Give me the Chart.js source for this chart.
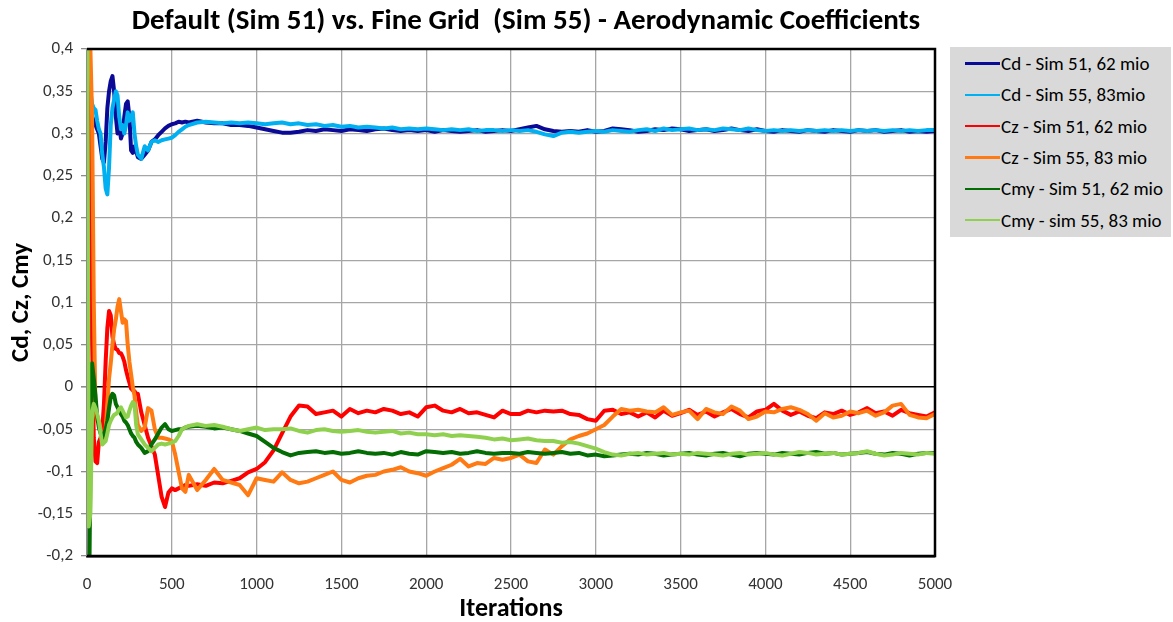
<!DOCTYPE html>
<html>
<head>
<meta charset="utf-8">
<script src="https://cdn.jsdelivr.net/npm/chart.js@4.4.1/dist/chart.umd.min.js"></script>
<style>
  html, body { margin: 0; padding: 0; background: #fff; }
  #wrap { position: relative; width: 1173px; height: 622px; }
  #legend {
    position: absolute; left: 950px; top: 47px; width: 221px; height: 190px;
    background: #d9d9d9; box-sizing: border-box; padding-top: 1px;
    font-family: Carlito, Calibri, Lato, sans-serif; font-size: 19px; color: #000;
  }
  .row { height: 31.3px; display: flex; align-items: center; }
  .swatch { margin-left: 15px; width: 35px; height: 2.5px; flex: none; }
  .lbl { margin-left: 1px; white-space: nowrap; }
</style>
</head>
<body>
<div id="wrap">
  <canvas id="chart" width="1173" height="622"></canvas>
  <div id="legend"></div>
</div>
<script>
const seriesNames = ['Cd - Sim 51, 62 mio', 'Cd - Sim 55, 83mio', 'Cz - Sim 51, 62 mio',
  'Cz - Sim 55, 83 mio', 'Cmy - Sim 51, 62 mio', 'Cmy - sim 55, 83 mio'];
const seriesColors = ['#0a0a96', '#00b0f0', '#ff0000', '#ff7a12', '#036c03', '#8fd14f'];

const iterations = [0, 10, 20, 30, 40, 50, 60, 70, 80, 90, 100, 110, 120, 130, 140, 150, 160, 170, 180, 190,
  200, 210, 220, 230, 240, 250, 260, 270, 280, 290, 300,
  320, 340, 360, 380, 400, 420, 440, 460, 480, 500, 520, 540, 560, 580, 600,
  650, 700, 750, 800, 850, 900, 950, 1000,
  1050, 1100, 1150, 1200, 1250, 1300, 1350, 1400, 1450, 1500,
  1550, 1600, 1650, 1700, 1750, 1800, 1850, 1900, 1950, 2000,
  2050, 2100, 2150, 2200, 2250, 2300, 2350, 2400, 2450, 2500,
  2550, 2600, 2650, 2700, 2750, 2800, 2850, 2900, 2950, 3000,
  3050, 3100, 3150, 3200, 3250, 3300, 3350, 3400, 3450, 3500,
  3550, 3600, 3650, 3700, 3750, 3800, 3850, 3900, 3950, 4000,
  4050, 4100, 4150, 4200, 4250, 4300, 4350, 4400, 4450, 4500,
  4550, 4600, 4650, 4700, 4750, 4800, 4850, 4900, 4950, 5000];

const cdSim51 = [0.40, 0.36, 0.33, 0.32, 0.315, 0.31, 0.305, 0.30, 0.285, 0.27, 0.266, 0.29, 0.33, 0.35, 0.362, 0.368, 0.35, 0.32, 0.30, 0.31,
  0.294, 0.30, 0.32, 0.335, 0.338, 0.32, 0.28, 0.277, 0.285, 0.279, 0.272,
  0.27, 0.275, 0.28, 0.29, 0.293, 0.298, 0.302, 0.306, 0.309, 0.311, 0.312, 0.314, 0.313, 0.314, 0.313,
  0.315, 0.313, 0.312, 0.312, 0.31, 0.31, 0.309, 0.307,
  0.305, 0.303, 0.301, 0.301, 0.302, 0.304, 0.303, 0.305, 0.304, 0.303,
  0.305, 0.304, 0.303, 0.305, 0.306, 0.304, 0.303, 0.304, 0.303, 0.304,
  0.302, 0.304, 0.303, 0.302, 0.303, 0.304, 0.302, 0.303, 0.304, 0.303,
  0.305, 0.307, 0.309, 0.305, 0.303, 0.302, 0.303, 0.302, 0.304, 0.302,
  0.303, 0.306, 0.305, 0.304, 0.302, 0.303, 0.305, 0.304, 0.306, 0.305,
  0.303, 0.304, 0.305, 0.303, 0.304, 0.306, 0.304, 0.303, 0.305, 0.303,
  0.302, 0.304, 0.303, 0.302, 0.304, 0.303, 0.302, 0.304, 0.303, 0.302,
  0.304, 0.303, 0.304, 0.302, 0.303, 0.304, 0.302, 0.303, 0.302, 0.303];

const cdSim55 = [0.40, 0.37, 0.35, 0.335, 0.33, 0.328, 0.315, 0.305, 0.30, 0.275, 0.26, 0.235, 0.228, 0.26, 0.31, 0.33, 0.34, 0.35, 0.345, 0.32,
  0.305, 0.31, 0.30, 0.31, 0.325, 0.315, 0.32, 0.325, 0.30, 0.285, 0.275,
  0.27, 0.285, 0.28, 0.29, 0.292, 0.29, 0.292, 0.293, 0.294, 0.295, 0.298, 0.302, 0.305, 0.308, 0.31,
  0.313, 0.314, 0.313, 0.312, 0.313, 0.312, 0.313, 0.312,
  0.311, 0.312, 0.313, 0.311, 0.312, 0.31, 0.311, 0.309, 0.31, 0.308,
  0.309, 0.307, 0.308, 0.307, 0.306, 0.307, 0.305, 0.306, 0.305, 0.306,
  0.305, 0.304, 0.305, 0.304, 0.305, 0.303, 0.304, 0.304, 0.303, 0.304,
  0.303, 0.304, 0.302, 0.299, 0.297, 0.301, 0.302, 0.301, 0.302, 0.303,
  0.302, 0.304, 0.303, 0.302, 0.304, 0.305, 0.303, 0.306, 0.304, 0.305,
  0.306, 0.304, 0.305, 0.304, 0.306, 0.305, 0.304, 0.306, 0.304, 0.303,
  0.304, 0.303, 0.304, 0.303, 0.304, 0.303, 0.304, 0.303, 0.304, 0.303,
  0.304, 0.303, 0.304, 0.303, 0.304, 0.303, 0.304, 0.303, 0.304, 0.304];

const czSim51 = [0.60, 0.45, 0.25, 0.05, -0.06, -0.088, -0.09, -0.065, -0.06, -0.05, -0.02, 0.03, 0.07, 0.09, 0.085, 0.06, 0.05, 0.045, 0.044, 0.04,
  0.04, 0.036, 0.03, 0.02, 0.012, 0.005, -0.002, -0.004, -0.005, -0.008, -0.008,
  -0.03, -0.045, -0.06, -0.07, -0.08, -0.105, -0.13, -0.142, -0.125, -0.12, -0.122, -0.12, -0.118, -0.116, -0.117,
  -0.115, -0.117, -0.113, -0.114, -0.111, -0.108, -0.101, -0.097,
  -0.089, -0.075, -0.055, -0.035, -0.022, -0.023, -0.032, -0.03, -0.028, -0.035,
  -0.026, -0.031, -0.028, -0.03, -0.026, -0.028, -0.032, -0.03, -0.035, -0.024,
  -0.022, -0.028, -0.03, -0.026, -0.031, -0.03, -0.033, -0.036, -0.028, -0.032,
  -0.032, -0.028, -0.03, -0.028, -0.029, -0.028, -0.032, -0.033, -0.038, -0.04,
  -0.028, -0.027, -0.032, -0.03, -0.035, -0.03, -0.036, -0.028, -0.034, -0.031,
  -0.027, -0.033, -0.029, -0.035, -0.03, -0.026, -0.032, -0.036, -0.029, -0.027,
  -0.02, -0.028, -0.033, -0.029, -0.034, -0.037, -0.03, -0.032, -0.028, -0.033,
  -0.03, -0.025, -0.031, -0.029, -0.034, -0.027, -0.031, -0.033, -0.035, -0.03];

const czSim55 = [0.60, 0.50, 0.40, 0.32, 0.10, -0.03, -0.04, -0.04, -0.05, -0.06, -0.064, -0.05, -0.02, 0.01, 0.028, 0.05, 0.068, 0.08, 0.095, 0.104,
  0.09, 0.076, 0.08, 0.078, 0.05, 0.03, 0.015, 0.0, -0.01, -0.03, -0.045,
  -0.052, -0.048, -0.025, -0.028, -0.05, -0.06, -0.06, -0.061, -0.062, -0.064, -0.08, -0.1, -0.12, -0.124, -0.104,
  -0.122, -0.11, -0.097, -0.11, -0.113, -0.116, -0.128, -0.108,
  -0.11, -0.112, -0.101, -0.11, -0.114, -0.112, -0.108, -0.104, -0.1, -0.11,
  -0.113, -0.108, -0.105, -0.104, -0.1, -0.098, -0.095, -0.1, -0.102, -0.105,
  -0.1, -0.096, -0.092, -0.085, -0.094, -0.09, -0.091, -0.084, -0.086, -0.084,
  -0.08, -0.088, -0.09, -0.074, -0.08, -0.07, -0.062, -0.058, -0.055, -0.05,
  -0.045, -0.035, -0.026, -0.028, -0.027, -0.029, -0.03, -0.024, -0.033, -0.03,
  -0.028, -0.038, -0.026, -0.03, -0.032, -0.023, -0.028, -0.038, -0.035, -0.029,
  -0.03, -0.026, -0.024, -0.027, -0.032, -0.04, -0.031, -0.036, -0.034, -0.029,
  -0.031, -0.028, -0.034, -0.03, -0.022, -0.02, -0.033, -0.036, -0.037, -0.032];

const cmySim51 = [-0.5, -0.3, -0.1, 0.028, 0.01, -0.01, -0.035, -0.048, -0.055, -0.06, -0.055, -0.05, -0.04, -0.025, -0.012, -0.008, -0.01, -0.02, -0.024, -0.028,
  -0.032, -0.035, -0.04, -0.042, -0.045, -0.05, -0.055, -0.058, -0.06, -0.065, -0.068,
  -0.072, -0.078, -0.076, -0.068, -0.062, -0.055, -0.048, -0.044, -0.05, -0.052, -0.051, -0.05, -0.05, -0.048, -0.047,
  -0.046, -0.047, -0.049, -0.048, -0.05, -0.052, -0.055, -0.058,
  -0.065, -0.072, -0.077, -0.081, -0.078, -0.077, -0.076, -0.078, -0.077, -0.079,
  -0.078, -0.076, -0.078, -0.079, -0.078, -0.08, -0.077, -0.079, -0.08, -0.076,
  -0.077, -0.078, -0.077, -0.079, -0.078, -0.076, -0.078, -0.079, -0.078, -0.078,
  -0.079, -0.077, -0.078, -0.079, -0.078, -0.077, -0.079, -0.078, -0.081, -0.08,
  -0.082, -0.081, -0.08, -0.079, -0.08, -0.078, -0.079, -0.081, -0.08, -0.079,
  -0.078, -0.08, -0.081, -0.079, -0.078, -0.08, -0.082, -0.079, -0.078, -0.079,
  -0.08, -0.078, -0.079, -0.08, -0.078, -0.077, -0.079, -0.078, -0.08, -0.079,
  -0.078, -0.077, -0.079, -0.08, -0.078, -0.079, -0.081, -0.079, -0.078, -0.078];

const cmySim55 = [0.6, -0.165, -0.15, -0.03, -0.02, -0.025, -0.032, -0.04, -0.055, -0.068, -0.066, -0.064, -0.055, -0.045, -0.04, -0.036, -0.033, -0.032, -0.03, -0.026,
  -0.024, -0.028, -0.032, -0.036, -0.035, -0.028, -0.022, -0.018, -0.02, -0.045, -0.056,
  -0.062, -0.068, -0.072, -0.076, -0.072, -0.068, -0.067, -0.068, -0.067, -0.066, -0.064, -0.058, -0.05, -0.048, -0.046,
  -0.044, -0.046, -0.045, -0.047, -0.05, -0.052, -0.05, -0.048,
  -0.051, -0.05, -0.05, -0.049, -0.052, -0.054, -0.051, -0.05, -0.052, -0.053,
  -0.052, -0.051, -0.053, -0.054, -0.053, -0.052, -0.055, -0.054, -0.056, -0.056,
  -0.057, -0.056, -0.058, -0.057, -0.058, -0.059, -0.06, -0.062, -0.061, -0.063,
  -0.062, -0.061, -0.063, -0.064, -0.064, -0.066, -0.065, -0.067, -0.07, -0.073,
  -0.077, -0.08, -0.081, -0.079, -0.078, -0.08, -0.079, -0.078, -0.08, -0.079,
  -0.08, -0.078, -0.079, -0.08, -0.081, -0.079, -0.078, -0.08, -0.079, -0.078,
  -0.08, -0.081, -0.079, -0.077, -0.078, -0.08, -0.079, -0.078, -0.08, -0.079,
  -0.078, -0.076, -0.079, -0.081, -0.08, -0.078, -0.079, -0.08, -0.078, -0.079];

const seriesValues = [cdSim51, cdSim55, czSim51, czSim55, cmySim51, cmySim55];

const chartTitle = 'Default (Sim 51) vs. Fine Grid  (Sim 55) - Aerodynamic Coefficients';
const fontFamily = 'Carlito, Calibri, Lato, sans-serif';

// legend as html, same order as the series
const legendBox = document.getElementById('legend');
seriesNames.forEach(function (name, i) {
    const row = document.createElement('div');
    row.className = 'row';
    row.innerHTML = '<span class="swatch" style="background:' + seriesColors[i] + '"></span><span class="lbl">' + name + '</span>';
    legendBox.appendChild(row);
});

const frameAndTitle = {
    id: 'frameAndTitle',
    afterDatasetsDraw(chart) {
        const { ctx, chartArea: a } = chart;
        ctx.save();
        ctx.strokeStyle = '#000';
        ctx.lineWidth = 2.5;
        ctx.beginPath();
        ctx.moveTo(a.left, a.top);
        ctx.lineTo(a.right, a.top);
        ctx.lineTo(a.right, a.bottom);
        ctx.lineTo(a.left, a.bottom);
        ctx.stroke();
        ctx.restore();
    },
    afterDraw(chart) {
        const ctx = chart.ctx;
        ctx.save();
        ctx.font = 'bold 29px ' + fontFamily;
        ctx.fillStyle = '#000';
        ctx.textAlign = 'center';
        ctx.textBaseline = 'middle';
        ctx.fillText(chartTitle, 526, 22);
        ctx.restore();
    }
};

new Chart(document.getElementById('chart'), {
    type: 'line',
    data: {
        datasets: seriesValues.map(function (vals, i) {
            return {
                label: seriesNames[i],
                data: iterations.map(function (it, k) { return { x: it, y: vals[k] }; }),
                borderColor: seriesColors[i],
                backgroundColor: seriesColors[i],
                borderWidth: 4,
                pointRadius: 0,
                tension: 0,
                borderJoinStyle: 'round',
                clip: 0,
                order: seriesValues.length - i
            };
        })
    },
    options: {
        responsive: false,
        animation: false,
        layout: { padding: { left: 0, top: 49, right: 238, bottom: 0 } },
        plugins: {
            legend: { display: false },
            tooltip: { enabled: false }
        },
        scales: {
            x: {
                type: 'linear',
                min: 0,
                max: 5000,
                afterFit: function (s) { s.height = 66; },
                ticks: {
                    stepSize: 500,
                    padding: 19,
                    color: '#333',
                    font: { family: fontFamily, size: 17 },
                    callback: function (v) { return String(v); }
                },
                grid: { color: '#a6a6a6', lineWidth: 1.3, drawTicks: false },
                border: { color: '#000', width: 2.5 },
                title: {
                    display: true,
                    text: 'Iterations',
                    color: '#000',
                    font: { family: fontFamily, size: 26, weight: 'bold', lineHeight: 1 },
                    padding: { top: 0, bottom: 0 }
                }
            },
            y: {
                min: -0.2,
                max: 0.4,
                afterFit: function (s) { s.width = 87; },
                ticks: {
                    stepSize: 0.05,
                    padding: 8,
                    color: '#333',
                    font: { family: fontFamily, size: 17 },
                    callback: function (v) { return String(Number(v.toFixed(2))).replace('.', ','); }
                },
                grid: {
                    color: function (c) { return c.tick && Math.abs(c.tick.value) < 1e-9 ? '#000' : '#a6a6a6'; },
                    lineWidth: function (c) { return c.tick && Math.abs(c.tick.value) < 1e-9 ? 1.6 : 1.3; },
                    tickLength: 6,
                    tickColor: '#8c8c8c'
                },
                border: { color: '#8c8c8c', width: 2 },
                title: {
                    display: true,
                    text: 'Cd, Cz, Cmy',
                    color: '#000',
                    font: { family: fontFamily, size: 25, weight: 'bold', lineHeight: 1 },
                    padding: { top: 9, bottom: 0 }
                }
            }
        }
    },
    plugins: [frameAndTitle]
});
</script>
</body>
</html>
